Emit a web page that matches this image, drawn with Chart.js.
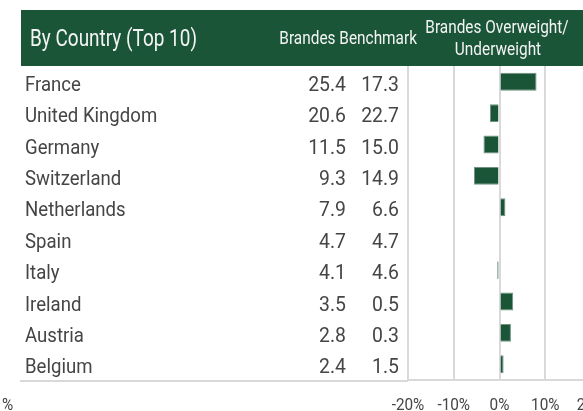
<!DOCTYPE html>
<html>
<head>
<meta charset="utf-8">
<script src="https://cdn.jsdelivr.net/npm/chart.js@4.4.1/dist/chart.umd.min.js"></script>
<style>
  html, body { margin: 0; padding: 0; background: #fff; overflow: hidden; }
  #wrap { width: 583px; height: 411px; overflow: hidden; position: relative; }
  #grafica { display: block; }
</style>
</head>
<body>
<div id="wrap"><canvas id="grafica" width="620" height="411"></canvas></div>
<script>
// ======================
// DATOS
// ======================
const paises = ["France", "United Kingdom", "Germany", "Switzerland", "Netherlands",
                "Spain", "Italy", "Ireland", "Austria", "Belgium"];
const brandes = ["25.4", "20.6", "11.5", "9.3", "7.9", "4.7", "4.1", "3.5", "2.8", "2.4"];
const benchmark = ["17.3", "22.7", "15.0", "14.9", "6.6", "4.7", "4.6", "0.5", "0.3", "1.5"];
const overweight = [8.1, -2.1, -3.5, -5.6, 1.3, 0.0, -0.5, 3.0, 2.5, 0.9];
const ticksX = [-20, -10, 0, 10, 20];

const titulo = "By Country (Top 10)";
const colBrandes = "Brandes Benchmark";
const colOver = ["Brandes Overweight/", "Underweight"];

const verde = "#1b5538";
const gris = "#454545";
const blanco = "#f4f4f4";

function etiqueta(v) { return v + "%"; }

// texto con compresion horizontal (simula fuente condensada)
function texto(ctx, t, x, y, align, size, color, sx) {
    ctx.save();
    ctx.font = size + "px Roboto";
    ctx.fillStyle = color;
    ctx.textAlign = align;
    ctx.textBaseline = "alphabetic";
    ctx.translate(x, y);
    ctx.scale(sx, 1);
    ctx.fillText(t, 0, 0);
    ctx.restore();
}

const tablaPlugin = {
    id: "tabla",
    beforeDraw(chart) {
        const ctx = chart.ctx;
        // banda del encabezado
        ctx.save();
        ctx.fillStyle = verde;
        ctx.fillRect(21, 10, chart.width - 21, 56);
        ctx.restore();
    },
    afterDraw(chart) {
        const ctx = chart.ctx;
        const y = chart.scales.y;
        const x = chart.scales.x;
        const area = chart.chartArea;

        texto(ctx, titulo, 30, 45.5, "left", 24, blanco, 0.79);
        texto(ctx, colBrandes, 417, 44, "right", 19, blanco, 0.81);
        texto(ctx, colOver[0], 497, 33, "center", 19, blanco, 0.81);
        texto(ctx, colOver[1], 498, 55, "center", 19, blanco, 0.81);

        paises.forEach((p, i) => {
            const py = y.getPixelForValue(i) + 9;
            texto(ctx, p, 25, py, "left", 20, gris, 0.93);
            texto(ctx, brandes[i], 346, py, "right", 20, gris, 0.97);
            texto(ctx, benchmark[i], 399, py, "right", 20, gris, 0.97);
        });

        // linea inferior de la tabla
        ctx.save();
        ctx.strokeStyle = "#d9d9d9";
        ctx.lineWidth = 2;
        ctx.beginPath();
        ctx.moveTo(20, area.bottom + 1);
        ctx.lineTo(area.left, area.bottom + 1);
        ctx.stroke();
        ctx.restore();

        // etiquetas del eje x
        ticksX.forEach(v => {
            texto(ctx, etiqueta(v), x.getPixelForValue(v), 410, "center", 17, gris, 0.9);
        });
        texto(ctx, "%", 2, 410, "left", 17, gris, 0.9);
    }
};

new Chart(document.getElementById("grafica"), {
    type: "bar",
    data: {
        labels: paises,
        datasets: [{
            data: overweight,
            backgroundColor: verde,
            borderColor: "#6f9380",
            borderWidth: 1,
            categoryPercentage: 1,
            barPercentage: 0.57
        }]
    },
    options: {
        indexAxis: "y",
        responsive: false,
        animation: false,
        layout: { padding: { left: 408, right: 29, top: 66, bottom: 0 } },
        plugins: {
            legend: { display: false },
            tooltip: { enabled: false }
        },
        scales: {
            x: {
                min: -20,
                max: 20,
                afterBuildTicks(scale) {
                    scale.ticks = ticksX.map(v => ({ value: v }));
                },
                afterFit(scale) { scale.height = 31; },
                ticks: { display: false, callback: etiqueta },
                grid: { color: "#d9d9d9", lineWidth: 2, drawTicks: false },
                border: { display: true, color: "#d9d9d9", width: 2 }
            },
            y: {
                display: false
            }
        }
    },
    plugins: [tablaPlugin]
});
</script>
</body>
</html>
